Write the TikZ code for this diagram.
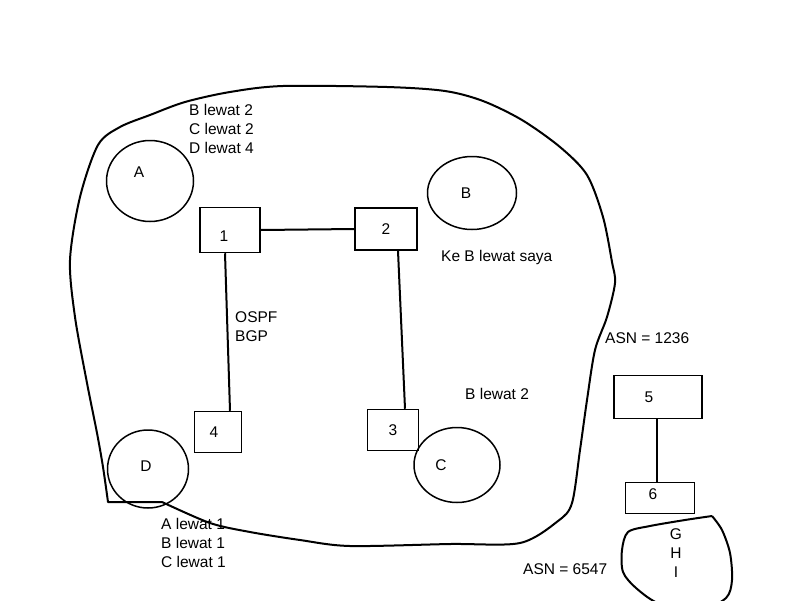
\documentclass[tikz,border=0pt]{standalone}
\usepackage{fontspec}
\setmainfont{Liberation Sans}
\usetikzlibrary{shapes.geometric, positioning}

\begin{document}
\begin{tikzpicture}[
        x=1pt, y=-1pt,
        font=\fontsize{15.5}{19}\selectfont,
        router/.style={draw, line width=1.5pt, inner sep=0pt},
        host/.style={draw, ellipse, line width=1.5pt, inner sep=0pt},
        note/.style={align=left, inner sep=0pt},
        link/.style={line width=2pt},
        area/.style={line width=2pt, line join=round}
    ]
        \useasboundingbox (0,0) rectangle (800,600);
        \clip (0,0) rectangle (800,600);

        % autonomous system 1236
        \draw[area] plot[smooth] coordinates {(162,502) (210,523) (250,532) (300,540)
            (350,546) (450,544) (520,543) (558,521) (572,503) (580,450) (587,400)
            (595,350) (607,317) (615,283) (612,262) (603,217) (587,175) (560,147)
            (522,120) (483,101) (445,91) (387,87) (283,86) (230,92) (185,102)
            (150,115) (120,127) (98,145) (80,197) (70,260) (75,317) (87,383)
            (97,433) (103,467) (108,502)} -- cycle;

        % autonomous system 6547
        \draw[area] plot[smooth] coordinates {(712,516) (722,530) (730,553)
            (732,580) (726,598) (700,610) (660,604) (636,588) (623,572) (622,550)
            (628,532) (650,526) (685,520) (712,516)};

        \node[router, minimum width=60pt, minimum height=45pt,
              label={[shift={(-6,6)}]center:1}] (r1) at (230,230) {};
        \node[router, minimum width=62pt, minimum height=42pt] (r2) at (386,229) {2};
        \node[router, minimum width=51pt, minimum height=41pt] (r3) at (393,430) {3};
        \node[router, minimum width=47pt, minimum height=41pt,
              label={[shift={(-4,0)}]center:4}] (r4) at (218,432) {};
        \node[router, minimum width=88pt, minimum height=43pt,
              label={[shift={(-9,0)}]center:5}] (r5) at (658,397) {};
        \node[router, minimum width=69pt, minimum height=31pt,
              label={[shift={(-7,-4)}]center:6}] (r6) at (660,498) {};

        \node[host, minimum width=87pt, minimum height=81pt,
              label={[shift={(-11,-9)}]center:A}] (A) at (150,181) {};
        \node[host, minimum width=89pt, minimum height=73pt,
              label={[shift={(-6,0)}]center:B}] (B) at (472,193) {};
        \node[host, minimum width=86pt, minimum height=75pt,
              label={[shift={(-16,0)}]center:C}] (C) at (457,465) {};
        \node[host, minimum width=81pt, minimum height=78pt,
              label={[shift={(-2,-3)}]center:D}] (D) at (148,469) {};

        \draw[link] (r1.east) -- (r2.west);
        \draw[link] ([xshift=12pt]r2.south) -- ([xshift=12pt]r3.north);
        \draw[link] ([xshift=-5pt]r1.south) -- ([xshift=12pt]r4.north);
        \draw[link] ([xshift=-1pt]r5.south) -- ([xshift=-3pt]r6.north);

        \node[note, anchor=north west] (tableA) at (189,104) {B lewat 2\\C lewat 2\\D lewat 4};
        \node[note, anchor=north west] (tableD) at (161,518) {A lewat 1\\B lewat 1\\C lewat 1};
        \node[note, anchor=north west] (proto) at (235,311) {OSPF\\BGP};
        \node[note, anchor=west] (advB) at (441,257) {Ke B lewat saya};
        \node[note, anchor=west] (viaC) at (465,394) {B lewat 2};
        \node[note, anchor=west] (asn1) at (605,338) {ASN = 1236};
        \node[note, anchor=west] (asn2) at (523,569) {ASN = 6547};
        \node[align=center, inner sep=0pt] (ghi) at (676,553) {G\\H\\I};
    \end{tikzpicture}
\end{document}
